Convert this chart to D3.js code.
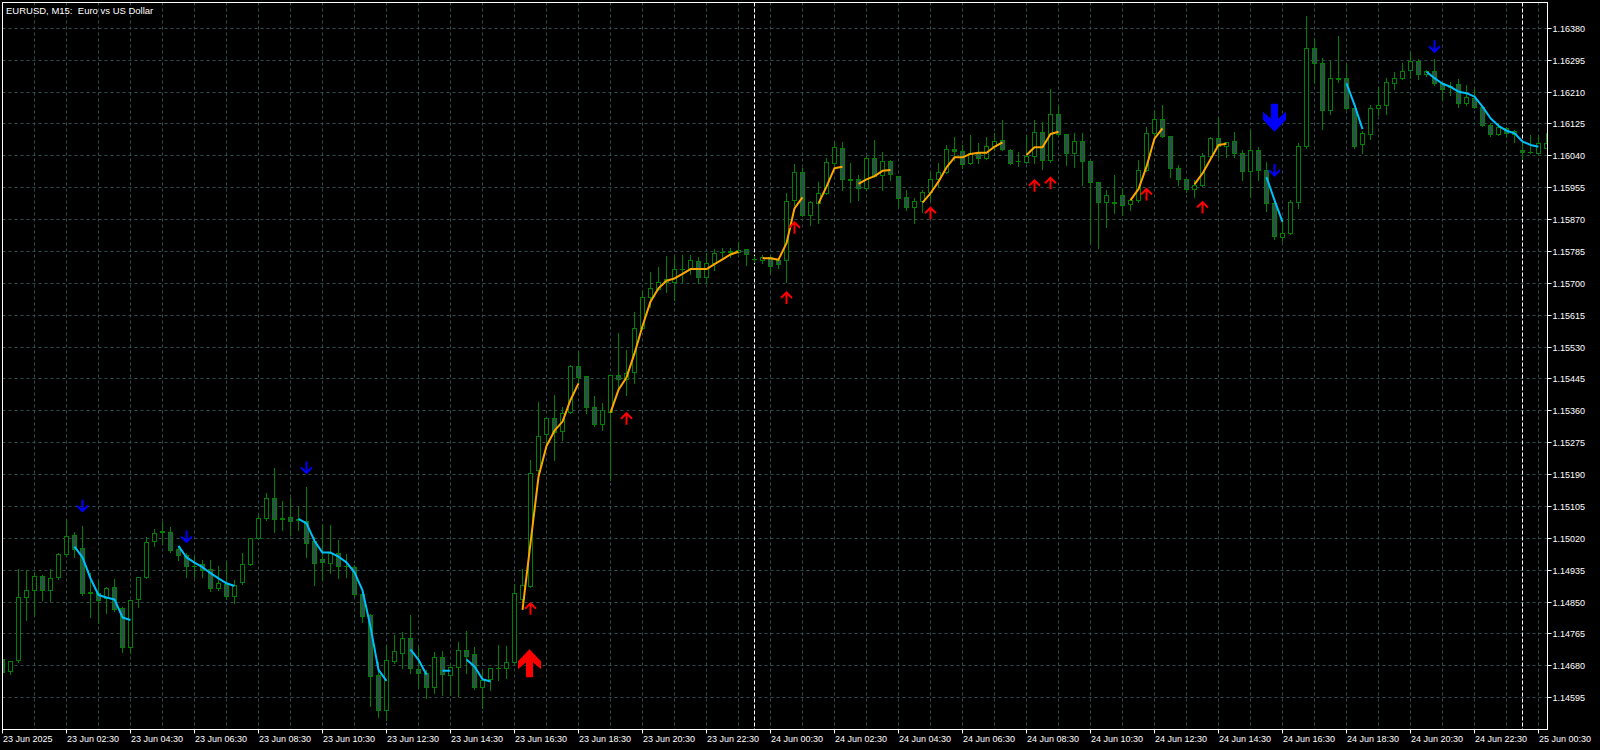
<!DOCTYPE html>
<html><head><meta charset="utf-8">
<script src="https://cdn.jsdelivr.net/npm/d3@7"></script>
<style>html,body{margin:0;padding:0;background:#000;overflow:hidden}</style>
</head><body>
<svg id="chart" width="1600" height="750"></svg>
<script>
const title = "EURUSD, M15:  Euro vs US Dollar";
const timeLabels = ["23 Jun 2025","23 Jun 02:30","23 Jun 04:30","23 Jun 06:30","23 Jun 08:30","23 Jun 10:30","23 Jun 12:30","23 Jun 14:30","23 Jun 16:30","23 Jun 18:30","23 Jun 20:30","23 Jun 22:30","24 Jun 00:30","24 Jun 02:30","24 Jun 04:30","24 Jun 06:30","24 Jun 08:30","24 Jun 10:30","24 Jun 12:30","24 Jun 14:30","24 Jun 16:30","24 Jun 18:30","24 Jun 20:30","24 Jun 22:30","25 Jun 00:30"];
const priceTicks = ["1.16380","1.16295","1.16210","1.16125","1.16040","1.15955","1.15870","1.15785","1.15700","1.15615","1.15530","1.15445","1.15360","1.15275","1.15190","1.15105","1.15020","1.14935","1.14850","1.14765","1.14680","1.14595"];
const separatorBars = [94, 190];

const opens = [1.14696,1.14664,1.14695,1.14863,1.14882,1.14918,1.14882,1.14915,1.14978,1.15028,1.14993,1.14873,1.14873,1.14860,1.14889,1.14833,1.14729,1.14857,1.14916,1.15011,1.15035,1.15036,1.14991,1.14975,1.14944,1.14949,1.14936,1.14886,1.14898,1.14864,1.14902,1.14951,1.15020,1.15073,1.15127,1.15072,1.15076,1.15069,1.15064,1.15011,1.14964,1.14953,1.14980,1.14944,1.14943,1.14869,1.14813,1.14653,1.14560,1.14691,1.14713,1.14752,1.14671,1.14660,1.14623,1.14703,1.14655,1.14676,1.14722,1.14711,1.14623,1.14644,1.14672,1.14672,1.14688,1.14857,1.14891,1.15200,1.15296,1.15340,1.15304,1.15355,1.15478,1.15451,1.15369,1.15324,1.15355,1.15453,1.15444,1.15462,1.15580,1.15663,1.15684,1.15702,1.15702,1.15737,1.15737,1.15758,1.15716,1.15753,1.15781,1.15782,1.15782,1.15789,1.15764,1.15760,1.15768,1.15762,1.15762,1.15922,1.15996,1.15882,1.15913,1.15940,1.16020,1.16060,1.15976,1.15977,1.15953,1.16033,1.15987,1.16026,1.15984,1.15929,1.15903,1.15918,1.15942,1.15977,1.15995,1.16057,1.16051,1.16020,1.16045,1.16033,1.16064,1.16082,1.16055,1.16024,1.16022,1.16038,1.16102,1.16027,1.16151,1.16097,1.16045,1.16078,1.16024,1.15969,1.15916,1.15914,1.15934,1.15911,1.15920,1.16002,1.16100,1.16138,1.16091,1.16007,1.15976,1.15951,1.15962,1.16038,1.16087,1.16064,1.16078,1.16047,1.15998,1.16054,1.16000,1.15913,1.15823,1.15833,1.15916,1.16064,1.16327,1.16285,1.16162,1.16244,1.16247,1.16167,1.16069,1.16098,1.16167,1.16174,1.16233,1.16247,1.16267,1.16291,1.16256,1.16266,1.16232,1.16221,1.16231,1.16180,1.16193,1.16169,1.16122,1.16098,1.16113,1.16096,1.16055,1.16049,1.16047,1.16060];
const highs = [1.14717,1.14693,1.14937,1.14936,1.14930,1.14922,1.14938,1.14981,1.15071,1.15038,1.15053,1.14928,1.14909,1.14889,1.14911,1.14837,1.14856,1.14918,1.15024,1.15044,1.15063,1.15051,1.15000,1.14982,1.14973,1.14962,1.14962,1.14946,1.14960,1.14909,1.14980,1.15022,1.15082,1.15140,1.15207,1.15120,1.15127,1.15104,1.15158,1.15024,1.15058,1.15056,1.15016,1.14978,1.14949,1.14882,1.14818,1.14691,1.14736,1.14762,1.14771,1.14816,1.14731,1.14669,1.14717,1.14720,1.14685,1.14744,1.14774,1.14731,1.14669,1.14674,1.14736,1.14733,1.14897,1.14937,1.15229,1.15384,1.15341,1.15402,1.15371,1.15482,1.15520,1.15453,1.15400,1.15381,1.15455,1.15567,1.15522,1.15624,1.15682,1.15731,1.15744,1.15773,1.15771,1.15776,1.15776,1.15771,1.15780,1.15791,1.15793,1.15793,1.15811,1.15791,1.15773,1.15776,1.15776,1.15768,1.15942,1.16018,1.16008,1.15919,1.15971,1.16033,1.16078,1.16078,1.16020,1.15989,1.16040,1.16082,1.16051,1.16029,1.15986,1.15949,1.15928,1.15949,1.15993,1.16020,1.16069,1.16091,1.16069,1.16096,1.16074,1.16091,1.16100,1.16135,1.16057,1.16051,1.16096,1.16135,1.16131,1.16217,1.16176,1.16099,1.16100,1.16100,1.16029,1.15971,1.15949,1.15989,1.15953,1.15922,1.16029,1.16118,1.16162,1.16176,1.16093,1.16016,1.15978,1.15976,1.16047,1.16091,1.16144,1.16078,1.16104,1.16055,1.16109,1.16064,1.16024,1.15922,1.15874,1.15922,1.16073,1.16413,1.16353,1.16300,1.16293,1.16360,1.16287,1.16168,1.16106,1.16176,1.16224,1.16247,1.16264,1.16288,1.16318,1.16297,1.16269,1.16297,1.16238,1.16238,1.16244,1.16229,1.16217,1.16173,1.16128,1.16127,1.16118,1.16109,1.16082,1.16096,1.16096,1.16102];
const lows = [1.14653,1.14657,1.14690,1.14802,1.14816,1.14856,1.14854,1.14912,1.14973,1.14971,1.14869,1.14811,1.14793,1.14821,1.14827,1.14718,1.14715,1.14838,1.14914,1.15000,1.15004,1.14984,1.14962,1.14918,1.14918,1.14918,1.14880,1.14882,1.14857,1.14848,1.14898,1.14949,1.15017,1.15069,1.15036,1.15042,1.15029,1.15042,1.14971,1.14896,1.14909,1.14927,1.14913,1.14918,1.14866,1.14798,1.14573,1.14543,1.14536,1.14688,1.14673,1.14660,1.14620,1.14593,1.14607,1.14602,1.14602,1.14600,1.14660,1.14619,1.14567,1.14616,1.14642,1.14647,1.14686,1.14853,1.14889,1.15189,1.15264,1.15229,1.15282,1.15353,1.15433,1.15355,1.15320,1.15309,1.15176,1.15420,1.15402,1.15435,1.15578,1.15638,1.15682,1.15678,1.15656,1.15704,1.15725,1.15700,1.15700,1.15736,1.15771,1.15771,1.15780,1.15749,1.15757,1.15754,1.15730,1.15741,1.15704,1.15909,1.15879,1.15856,1.15860,1.15938,1.16016,1.15949,1.15918,1.15922,1.15949,1.15983,1.15949,1.15976,1.15904,1.15896,1.15860,1.15891,1.15922,1.15958,1.15993,1.16029,1.16007,1.16018,1.16020,1.16031,1.16055,1.16055,1.16018,1.16013,1.16020,1.16020,1.16004,1.16024,1.16096,1.16016,1.16009,1.15962,1.15807,1.15793,1.15851,1.15887,1.15882,1.15896,1.15917,1.16000,1.16096,1.16090,1.15984,1.15962,1.15944,1.15931,1.15960,1.16037,1.16038,1.16038,1.16038,1.15976,1.15931,1.15976,1.15894,1.15817,1.15814,1.15831,1.15900,1.16062,1.16233,1.16111,1.16151,1.16238,1.16166,1.16060,1.16047,1.16084,1.16149,1.16151,1.16217,1.16244,1.16247,1.16244,1.16254,1.16229,1.16189,1.16202,1.16171,1.16176,1.16167,1.16120,1.16093,1.16096,1.16091,1.16078,1.16031,1.16047,1.16042,1.16060];
const closes = [1.14662,1.14691,1.14863,1.14882,1.14918,1.14882,1.14914,1.14976,1.15024,1.14989,1.14873,1.14876,1.14854,1.14887,1.14831,1.14729,1.14854,1.14916,1.15009,1.15033,1.15037,1.14987,1.14975,1.14944,1.14946,1.14934,1.14886,1.14900,1.14864,1.14893,1.14951,1.15020,1.15073,1.15127,1.15069,1.15070,1.15065,1.15068,1.15007,1.14953,1.14955,1.14980,1.14944,1.14945,1.14869,1.14811,1.14651,1.14560,1.14694,1.14717,1.14752,1.14672,1.14660,1.14623,1.14703,1.14656,1.14675,1.14722,1.14704,1.14623,1.14640,1.14673,1.14673,1.14688,1.14873,1.14893,1.15193,1.15291,1.15340,1.15302,1.15353,1.15478,1.15449,1.15369,1.15324,1.15360,1.15453,1.15444,1.15460,1.15580,1.15663,1.15687,1.15703,1.15709,1.15737,1.15738,1.15760,1.15716,1.15753,1.15780,1.15782,1.15784,1.15787,1.15776,1.15763,1.15768,1.15746,1.15751,1.15918,1.15996,1.15882,1.15916,1.15940,1.16022,1.16062,1.15976,1.15974,1.15953,1.16033,1.15984,1.16024,1.15989,1.15927,1.15903,1.15918,1.15942,1.15977,1.15995,1.16057,1.16051,1.16016,1.16045,1.16033,1.16064,1.16078,1.16057,1.16020,1.16025,1.16038,1.16102,1.16027,1.16151,1.16097,1.16047,1.16078,1.16024,1.15969,1.15916,1.15934,1.15916,1.15907,1.15920,1.16002,1.16100,1.16137,1.16091,1.16007,1.15976,1.15949,1.15962,1.16038,1.16087,1.16064,1.16075,1.16047,1.15998,1.16054,1.16002,1.15913,1.15824,1.15833,1.15916,1.16064,1.16327,1.16287,1.16162,1.16247,1.16245,1.16167,1.16064,1.16100,1.16167,1.16174,1.16235,1.16247,1.16266,1.16291,1.16256,1.16264,1.16232,1.16216,1.16226,1.16180,1.16195,1.16169,1.16122,1.16096,1.16116,1.16100,1.16104,1.16048,1.16048,1.16072,1.16072];

// indicator line: down-trend (cyan) and up-trend (orange) segments: start bar and values
const downLineStarts = [9, 22, 37, 51, 55, 58, 158, 168, 178];
const downLineValues = [
  [1.14998,1.14969,1.14913,1.14869,1.14862,1.14857,1.14809,1.14802],
  [1.15000,1.14969,1.14955,1.14943,1.14927,1.14913,1.14900,1.14893],
  [1.15072,1.15060,1.15013,1.14982,1.14982,1.14971,1.14956,1.14929,1.14881,1.14784,1.14669,1.14640],
  [1.14724,1.14696,1.14656],
  [1.14667,1.14667],
  [1.14697,1.14678,1.14644,1.14638],
  [1.15983,1.15922,1.15864],
  [1.16233,1.16176,1.16111],
  [1.16264,1.16247,1.16232,1.16224,1.16211,1.16207,1.16198,1.16171,1.16140,1.16120,1.16107,1.16100,1.16078,1.16069,1.16064]
];
const upLineStarts = [65, 76, 95, 102, 107, 115, 128, 141, 149];
const upLineValues = [
  [1.14829,1.15007,1.15184,1.15266,1.15307,1.15331,1.15389,1.15433],
  [1.15355,1.15416,1.15449,1.15513,1.15586,1.15651,1.15687,1.15707,1.15713,1.15725,1.15738,1.15738,1.15738,1.15751,1.15764,1.15777,1.15784],
  [1.15767,1.15767,1.15763,1.15807,1.15900,1.15929],
  [1.15913,1.15958,1.16007,1.16011],
  [1.15965,1.15977,1.15986,1.16000,1.16002],
  [1.15915,1.15940,1.15971,1.16009,1.16036,1.16036,1.16045,1.16048,1.16048,1.16064,1.16076],
  [1.16042,1.16063,1.16063,1.16098,1.16104],
  [1.15922,1.15951,1.16011,1.16086,1.16113],
  [1.15964,1.15993,1.16031,1.16069,1.16072]
];
// signal arrows (bar index, price of arrow tip)
const buyArrowBars = [66, 78, 98, 99, 116, 129, 131, 143, 150];
const buyArrowPrices = [1.14848, 1.15355, 1.15677, 1.15864, 1.15903, 1.15976, 1.15983, 1.15953, 1.15918];
const sellArrowBars = [10, 23, 38, 159, 179];
const sellArrowPrices = [1.15091, 1.15009, 1.15193, 1.15986, 1.16316];
const bigBuyBar = [66], bigBuyPrice = [1.14724];
const bigSellBar = [159], bigSellPrice = [1.16104];

// ---------- drawing ----------
const W = 1600, H = 750;
const L = 2.5, T = 2.5, R = 1547.5, B = 729.5;
const FONT = "'Liberation Sans', Arial, sans-serif";
const GRID = "#2F4F4F", CANDLE = "#008000", BEARFILL = "#2F4F4F";
const svg = d3.select("#chart");
svg.append("rect").attr("width", W).attr("height", H).attr("fill", "#000");

const x = d3.scaleLinear().domain([0, 193]).range([2.5, 1546.5]);
const y = d3.scaleLinear().domain([1.14595, 1.16380]).range([697.7, 28.3]);
const snap = v => Math.floor(v) + 0.5;

svg.append("defs").append("clipPath").attr("id", "clip")
  .append("rect").attr("x", L).attr("y", T).attr("width", R - L).attr("height", B - T);
const plot = svg.append("g").attr("clip-path", "url(#clip)");

// grid
const grid = plot.append("g").attr("stroke", GRID).attr("stroke-width", 1).attr("stroke-dasharray", "3,3");
grid.selectAll("line.h").data(priceTicks).join("line").attr("class", "h")
  .attr("x1", L).attr("x2", R).attr("y1", d => snap(y(+d))).attr("y2", d => snap(y(+d)));
const vIdx = d3.range(4, 194, 4);
grid.selectAll("line.v").data(vIdx).join("line").attr("class", "v")
  .attr("y1", T).attr("y2", B).attr("x1", d => x(d)).attr("x2", d => x(d));

// period separators
plot.selectAll("line.sep").data(separatorBars).join("line").attr("class", "sep")
  .attr("x1", d => x(d)).attr("x2", d => x(d)).attr("y1", T).attr("y2", B)
  .attr("stroke", "#fff").attr("stroke-width", 1).attr("stroke-dasharray", "4,2");

// candles
const bars = opens.map((o, i) => ({i, o, h: highs[i], l: lows[i], c: closes[i]}));
const cg = plot.append("g");
cg.selectAll("line.wick").data(bars).join("line").attr("class", "wick")
  .attr("x1", d => x(d.i)).attr("x2", d => x(d.i))
  .attr("y1", d => Math.round(y(d.h))).attr("y2", d => Math.round(y(d.l)) + 1)
  .attr("stroke", CANDLE).attr("stroke-width", 1);
bars.forEach(d => {
  const top = snap(y(Math.max(d.o, d.c)));
  const bot = snap(y(Math.min(d.o, d.c)));
  const cx = x(d.i);
  if (bot - top < 1) {
    cg.append("line").attr("x1", cx - 2.5).attr("x2", cx + 2.5).attr("y1", top).attr("y2", top)
      .attr("stroke", CANDLE).attr("stroke-width", 1);
  } else {
    cg.append("rect").attr("x", cx - 2).attr("y", top).attr("width", 4).attr("height", bot - top)
      .attr("fill", d.c < d.o ? BEARFILL : "#000").attr("stroke", CANDLE).attr("stroke-width", 1);
  }
});

// indicator lines
const lineGen = start => d3.line().x((d, k) => x(start + k)).y(d => y(d));
downLineValues.forEach((vals, s) => {
  plot.append("path").attr("d", lineGen(downLineStarts[s])(vals))
    .attr("fill", "none").attr("stroke", "#00BFFF").attr("stroke-width", 2).attr("stroke-linejoin", "round");
});
upLineValues.forEach((vals, s) => {
  plot.append("path").attr("d", lineGen(upLineStarts[s])(vals))
    .attr("fill", "none").attr("stroke", "#FFA500").attr("stroke-width", 2).attr("stroke-linejoin", "round");
});

// small arrows
buyArrowBars.forEach((b, k) => {
  const cx = x(b), ty = y(buyArrowPrices[k]);
  plot.append("path").attr("d", `M${cx},${ty + 12} L${cx},${ty + 1} M${cx - 5.5},${ty + 6} L${cx},${ty + 0.5} L${cx + 5.5},${ty + 6}`)
    .attr("fill", "none").attr("stroke", "#FF0000").attr("stroke-width", 2);
});
sellArrowBars.forEach((b, k) => {
  const cx = x(b), ty = y(sellArrowPrices[k]);
  plot.append("path").attr("d", `M${cx},${ty - 12} L${cx},${ty - 1} M${cx - 5.5},${ty - 6} L${cx},${ty - 0.5} L${cx + 5.5},${ty - 6}`)
    .attr("fill", "none").attr("stroke", "#0000FF").attr("stroke-width", 2);
});
// big arrows
const bigShape = [[0,0],[11.5,12],[11.5,20],[3.5,13],[3.5,28],[-3.5,28],[-3.5,13],[-11.5,20],[-11.5,12]];
bigBuyBar.forEach((b, k) => {
  const cx = x(b) - 1, ty = y(bigBuyPrice[k]);
  plot.append("polygon").attr("points", bigShape.map(p => [cx + p[0], ty + p[1]].join(",")).join(" ")).attr("fill", "#FF0000");
});
bigSellBar.forEach((b, k) => {
  const cx = x(b), ty = y(bigSellPrice[k]);
  plot.append("polygon").attr("points", bigShape.map(p => [cx + p[0], ty - p[1]].join(",")).join(" ")).attr("fill", "#0000FF");
});

// frame
svg.append("rect").attr("x", L).attr("y", T).attr("width", R - L).attr("height", B - T)
  .attr("fill", "none").attr("stroke", "#fff").attr("stroke-width", 1);

// price axis
const ax = svg.append("g").attr("font-family", FONT).attr("font-size", 9).attr("fill", "#fff");
priceTicks.forEach(t => {
  const yy = snap(y(+t));
  ax.append("line").attr("x1", R).attr("x2", R + 4).attr("y1", yy).attr("y2", yy).attr("stroke", "#fff");
  ax.append("text").attr("x", R + 5).attr("y", yy + 3.3).text(t);
});
// time axis
timeLabels.forEach((t, k) => {
  const xx = x(k * 8);
  ax.append("line").attr("x1", xx).attr("x2", xx).attr("y1", B).attr("y2", B + 4).attr("stroke", "#fff");
  ax.append("text").attr("x", xx + 0.5).attr("y", 742).text(t);
});
// title
svg.append("text").attr("x", 6).attr("y", 13.5).attr("font-family", FONT).attr("font-size", 9.5)
  .attr("fill", "#fff").style("white-space", "pre").text(title);
</script>
</body></html>
